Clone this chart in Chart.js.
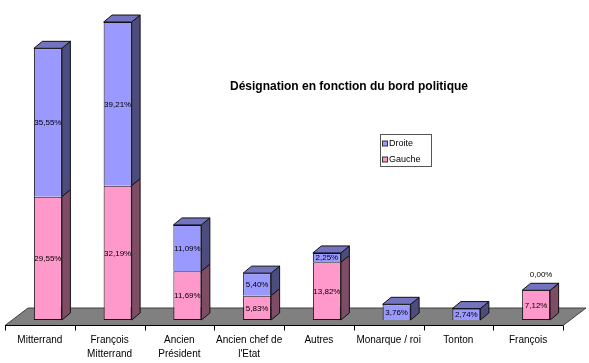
<!DOCTYPE html>
<html>
<head>
<meta charset="utf-8">
<script src="https://cdn.jsdelivr.net/npm/chart.js@4.4.1/dist/chart.umd.min.js"></script>
<style>
html,body{margin:0;padding:0;background:#fff;}
#c{display:block;}
</style>
</head>
<body>
<canvas id="c" width="589" height="363"></canvas>
<script>
const categories = ["Mitterrand", ["François","Mitterrand"], ["Ancien","Président"], ["Ancien chef de","l'Etat"], "Autres", "Monarque / roi", "Tonton", "François"];
const gauche = [29.55, 32.19, 11.69, 5.83, 13.82, null, null, 7.12];
const droite = [35.55, 39.21, 11.09, 5.40, 2.25, 3.76, 2.74, 0.00];
const seriesNames = ["Gauche", "Droite"];
const chartTitle = "Désignation en fonction du bord politique";

const FRONT = ["#FF99CC", "#9999FF"];
const SIDE = ["#7F4C66", "#4C4C7F"];
const TOP = ["#BF7399", "#7373BF"];
const DX = 8.5, DY = 7;
const FONT = "'Liberation Sans', Arial, sans-serif";

function fmt(v){ return v.toFixed(2).replace('.', ',') + '%'; }

const threeD = {
  id: 'threeD',
  beforeDatasetsDraw(chart){
    const ctx = chart.ctx, ca = chart.chartArea, xs = chart.scales.x;
    const fy = ca.bottom + 5.5, by = ca.bottom - 12;
    const fl = ca.left - 8, fr = ca.right - 8, off = 23;
    ctx.save();
    ctx.beginPath();
    ctx.moveTo(fl, fy); ctx.lineTo(fr, fy); ctx.lineTo(fr + off, by); ctx.lineTo(fl + off, by); ctx.closePath();
    ctx.fillStyle = '#808080'; ctx.fill();
    ctx.strokeStyle = '#404040'; ctx.lineWidth = 1; ctx.stroke();
    ctx.beginPath();
    ctx.moveTo(fl, fy); ctx.lineTo(fr, fy);
    const half = (xs.getPixelForValue(1) - xs.getPixelForValue(0)) / 2;
    for (let i = 0; i <= categories.length; i++) {
      const tx = Math.round(xs.getPixelForValue(0) - half - 8 + i * 2 * half) + 0.5;
      ctx.moveTo(tx, fy); ctx.lineTo(tx, fy + 5);
    }
    ctx.strokeStyle = '#000'; ctx.stroke();
    ctx.restore();
  },
  afterDatasetsDraw(chart){
    const ctx = chart.ctx;
    const sets = [gauche, droite];
    ctx.save();
    ctx.lineWidth = 1; ctx.strokeStyle = '#111';
    for (let i = 0; i < categories.length; i++) {
      let topEl = null;
      for (let d = 0; d < 2; d++) {
        const v = sets[d][i];
        if (v === null) continue;
        const el = chart.getDatasetMeta(d).data[i];
        const p = el.getProps(['x','y','base','width'], true);
        const l = p.x - p.width/2, r = p.x + p.width/2;
        const t = Math.min(p.y, p.base), b = Math.max(p.y, p.base);
        ctx.beginPath();
        ctx.moveTo(r, t); ctx.lineTo(r + DX, t - DY); ctx.lineTo(r + DX, b - DY); ctx.lineTo(r, b); ctx.closePath();
        ctx.fillStyle = SIDE[d]; ctx.fill(); ctx.stroke();
        topEl = {l, r, t};
      }
      if (topEl) {
        ctx.beginPath();
        ctx.moveTo(topEl.l, topEl.t); ctx.lineTo(topEl.l + DX, topEl.t - DY);
        ctx.lineTo(topEl.r + DX, topEl.t - DY); ctx.lineTo(topEl.r, topEl.t); ctx.closePath();
        ctx.fillStyle = TOP[1]; ctx.fill(); ctx.stroke();
      }
    }
    ctx.font = "8px " + FONT; ctx.fillStyle = '#000';
    ctx.textAlign = 'center'; ctx.textBaseline = 'middle';
    for (let i = 0; i < categories.length; i++) {
      for (let d = 0; d < 2; d++) {
        const v = sets[d][i];
        if (v === null) continue;
        const p = chart.getDatasetMeta(d).data[i].getProps(['x','y','base'], true);
        const t = Math.min(p.y, p.base), b = Math.max(p.y, p.base);
        if (v === 0) ctx.fillText(fmt(v), p.x + 5, t - DY - 8);
        else ctx.fillText(fmt(v), p.x, (t + b) / 2 + 0.5);
      }
    }
    ctx.restore();
  },
  afterDraw(chart){
    const ctx = chart.ctx;
    ctx.save();
    ctx.fillStyle = '#000';
    ctx.font = "bold 12px " + FONT;
    ctx.textAlign = 'center'; ctx.textBaseline = 'middle';
    ctx.fillText(chartTitle, 349, 87);
    ctx.fillStyle = '#fff'; ctx.fillRect(380.5, 134.5, 51, 32);
    ctx.strokeStyle = '#555'; ctx.lineWidth = 1; ctx.strokeRect(380.5, 134.5, 51, 32);
    const items = [[1, 143.5], [0, 159.5]];
    ctx.font = "9px " + FONT; ctx.textAlign = 'left';
    for (const [d, yy] of items) {
      ctx.fillStyle = FRONT[d];
      ctx.fillRect(382.5, yy - 2.5, 5, 5);
      ctx.strokeStyle = '#333'; ctx.strokeRect(382.5, yy - 2.5, 5, 5);
      ctx.fillStyle = '#000';
      ctx.fillText(seriesNames[d], 389, yy);
    }
    ctx.restore();
  }
};

new Chart(document.getElementById('c'), {
  type: 'bar',
  data: {
    labels: categories,
    datasets: [
      { label: seriesNames[0], data: gauche, backgroundColor: FRONT[0], borderColor: '#111', borderWidth: 1, borderSkipped: false },
      { label: seriesNames[1], data: droite, backgroundColor: FRONT[1], borderColor: '#111', borderWidth: 1, borderSkipped: 'start' }
    ]
  },
  options: {
    responsive: false,
    animation: false,
    devicePixelRatio: 1,
    layout: { padding: { left: 13, right: 18, top: 7, bottom: 0 } },
    datasets: { bar: { categoryPercentage: 1, barPercentage: 0.4014 } },
    plugins: { legend: { display: false }, tooltip: { enabled: false }, title: { display: false } },
    scales: {
      x: {
        stacked: true,
        grid: { display: false },
        border: { display: false },
        ticks: { color: '#000', font: { family: FONT, size: 10, lineHeight: 1.4 }, padding: 5.5, labelOffset: -8, maxRotation: 0, autoSkip: false },
        afterFit(scale) { scale.height = 43; }
      },
      y: { stacked: true, display: false, min: 0, max: 75 }
    }
  },
  plugins: [threeD]
});
</script>
</body>
</html>
